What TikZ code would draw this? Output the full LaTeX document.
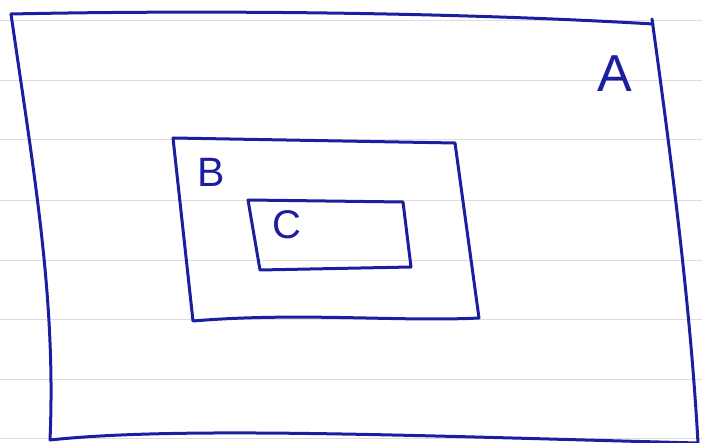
\documentclass[tikz,border=0pt]{standalone}
\usepackage{fontspec}
\setmainfont{Liberation Sans}
\usetikzlibrary{positioning}
\definecolor{pen}{RGB}{28,30,160}
\definecolor{ruling}{RGB}{226,218,224}

\begin{document}
\begin{tikzpicture}[x=1pt,y=-1pt,
pen/.style={draw=pen,line width=3pt,line join=round,line cap=round},
rule/.style={draw=ruling,line width=0.7pt},
letter/.style={text=pen,inner sep=0pt,font=\fontsize{#1}{#1}\selectfont},
letter/.default=40pt]
\useasboundingbox (0,0) rectangle (702,443);
% ruled paper
\foreach \y in {20,80,139,200,260,319,379,438}
  \draw[rule] (0,\y) -- (702,\y);
% box A
\coordinate (a1) at (11,14);
\coordinate (a2) at (653,24);
\coordinate (a3) at (698,443);
\coordinate (a4) at (50,440);
\draw[pen] (a1) .. controls (200,10) and (450,12) .. (a2);
\draw[pen] (652,19) .. controls (670,150) and (690,300) .. (a3);
\draw[pen] (a4) .. controls (180,426) and (420,436) .. (a3);
\draw[pen] (a1) .. controls (35,180) and (56,300) .. (a4);
% box B
\coordinate (b1) at (173,138);
\coordinate (b2) at (455,143);
\coordinate (b3) at (479,318);
\coordinate (b4) at (193,321);
\draw[pen] (b1) -- (b2) -- (b3) .. controls (400,322) and (300,312) .. (b4) -- cycle;
% box C
\coordinate (c1) at (248,200);
\coordinate (c2) at (403,202);
\coordinate (c3) at (411,267);
\coordinate (c4) at (260,270);
\draw[pen] (c1) -- (c2) -- (c3) -- (c4) -- cycle;
% labels
\node[letter=52pt] (labA) at (615,74) {A};
\node[letter=41pt] (labB) at (211,172) {B};
\node[letter=40pt] (labC) at (287,225) {C};
\end{tikzpicture}
\end{document}
